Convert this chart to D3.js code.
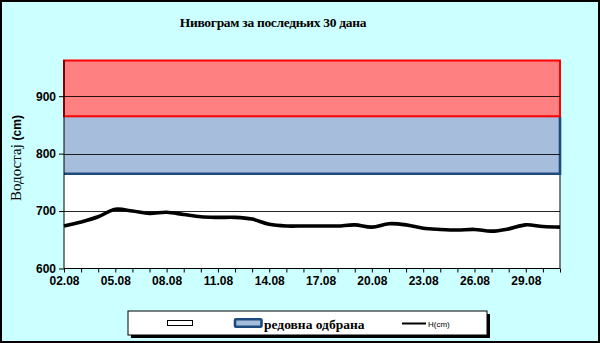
<!DOCTYPE html>
<html><head><meta charset="utf-8">
<script src="https://cdn.jsdelivr.net/npm/d3@7"></script>
<style>html,body{margin:0;padding:0;background:#CCFFFF;}svg{display:block;}</style>
</head><body>
<script>
const title = "Нивограм за последњих 30 дана";
const yLabelMain = "Водостај ";
const yLabelUnit = "(cm)";
const dates = ["02.08","03.08","04.08","05.08","06.08","07.08","08.08","09.08","10.08","11.08",
  "12.08","13.08","14.08","15.08","16.08","17.08","18.08","19.08","20.08","21.08",
  "22.08","23.08","24.08","25.08","26.08","27.08","28.08","29.08","30.08","31.08"];
const levels = [674,681,690,703,700,696,698,694,690,689,
  689,686,677,674,674,674,674,676,672,678,
  676,670,668,667,668,665,669,676,673,672];
const yTicks = [600,700,800,900];
const yDomain = [600,963];
const bandLow = [765,865];   // редовна одбрана
const bandHigh = [865,963];  // red zone
const legendLabels = ["", "редовна одбрана", "H(cm)"];

const W=600,H=343;
const svg=d3.select("body").append("svg").attr("width",W).attr("height",H);
svg.append("rect").attr("x",1).attr("y",1).attr("width",W-2).attr("height",H-2)
  .attr("fill","#CCFFFF").attr("stroke","#000").attr("stroke-width",2);

const L=64,R=560,T=60,B=268.5;
const parse=d3.timeParse("%d.%m.%Y");
const dd=dates.map(s=>parse(s+".2024"));
const x=d3.scaleTime().domain([dd[0],dd[dd.length-1]]).range([L,R]);
const y=d3.scaleLinear().domain(yDomain).range([B,T]);

// plot area
svg.append("rect").attr("x",L).attr("y",T).attr("width",R-L).attr("height",B-T).attr("fill","#fff");
svg.append("line").attr("x1",R).attr("x2",R).attr("y1",T).attr("y2",B).attr("stroke","#000");

// bands
svg.append("rect").attr("x",L).attr("y",y(bandLow[1])).attr("width",R-L)
  .attr("height",y(bandLow[0])-y(bandLow[1])).attr("fill","#A6BEDC");
svg.append("path").attr("d",`M${L},${y(bandLow[0])}H${R}V${y(bandLow[1])}`)
  .attr("fill","none").attr("stroke","#1F4A7E").attr("stroke-width",2.6);
svg.append("rect").attr("x",L).attr("y",y(bandHigh[1])+0.5).attr("width",R-L)
  .attr("height",y(bandHigh[0])-y(bandHigh[1])-0.5).attr("fill","#FF8080")
  .attr("stroke","#FF0000").attr("stroke-width",2);

// gridlines
svg.append("g").selectAll("line").data(yTicks.filter(v=>v>600)).join("line")
  .attr("x1",L).attr("x2",R).attr("y1",d=>Math.round(y(d))+0.5).attr("y2",d=>Math.round(y(d))+0.5)
  .attr("stroke","#000").attr("stroke-width",1).attr("stroke-opacity",0.85);

// axes
const yAxis=d3.axisLeft(y).tickValues(yTicks).tickSize(5).tickPadding(3);
const gy=svg.append("g").attr("transform",`translate(${L},0)`).call(yAxis);
gy.select(".domain").attr("d",`M0,${T}V${B}`);
gy.selectAll("text").attr("font-family","Liberation Sans, Arial").attr("font-weight","bold")
  .attr("font-size",12).attr("fill","#000");

const xAxis=d3.axisBottom(x).tickValues(dd).tickSize(4).tickPadding(4)
  .tickFormat((d,i)=> i%3===0 ? dates[i] : "");
const gx=svg.append("g").attr("transform",`translate(0,${B})`).call(xAxis);
gx.select(".domain").attr("d",`M${L},0H${R}`);
gx.selectAll("text").attr("font-family","Liberation Sans, Arial").attr("font-weight","bold")
  .attr("font-size",12).attr("fill","#000");

// line
const line=d3.line().x((d,i)=>x(dd[i])).y(d=>y(d)).curve(d3.curveCatmullRom.alpha(0.5));
svg.append("path").datum(levels).attr("d",line).attr("fill","none")
  .attr("stroke","#000").attr("stroke-width",3.6).attr("stroke-linejoin","round");

// title
svg.append("text").attr("x",273).attr("y",27).attr("text-anchor","middle")
  .attr("font-family","Liberation Serif, Times New Roman").attr("font-weight","bold")
  .attr("font-size",13.5).attr("letter-spacing",-0.3).text(title);

// y label
const yl=svg.append("text").attr("transform","translate(21,158) rotate(-90)").attr("text-anchor","middle");
yl.append("tspan").attr("font-family","Liberation Serif, Times New Roman").attr("font-size",15).text(yLabelMain);
yl.append("tspan").attr("font-family","Liberation Sans, Arial").attr("font-weight","bold").attr("font-size",12).text(yLabelUnit);

// legend
const lg=svg.append("g");
lg.append("rect").attr("x",131).attr("y",314).attr("width",359).attr("height",24).attr("fill","#000");
lg.append("rect").attr("x",128).attr("y",311).attr("width",359).attr("height",24)
  .attr("fill","#fff").attr("stroke","#000").attr("stroke-width",1);
lg.append("rect").attr("x",167.5).attr("y",320.5).attr("width",25).attr("height",5)
  .attr("fill","#fff").attr("stroke","#000").attr("stroke-width",1);
lg.append("rect").attr("x",235).attr("y",319.3).attr("width",26.5).attr("height",7.4)
  .attr("fill","#A6BEDC").attr("stroke","#1F4A7E").attr("stroke-width",2.6).attr("rx",1);
lg.append("text").attr("x",264).attr("y",328.5).attr("font-family","Liberation Serif, Times New Roman")
  .attr("font-weight","bold").attr("font-size",13.5).text(legendLabels[1]);
lg.append("line").attr("x1",402).attr("x2",426).attr("y1",323.5).attr("y2",323.5)
  .attr("stroke","#000").attr("stroke-width",2);
lg.append("text").attr("x",428).attr("y",326.5).attr("font-family","Liberation Sans, Arial")
  .attr("font-size",8).text(legendLabels[2]);
</script>
</body></html>
